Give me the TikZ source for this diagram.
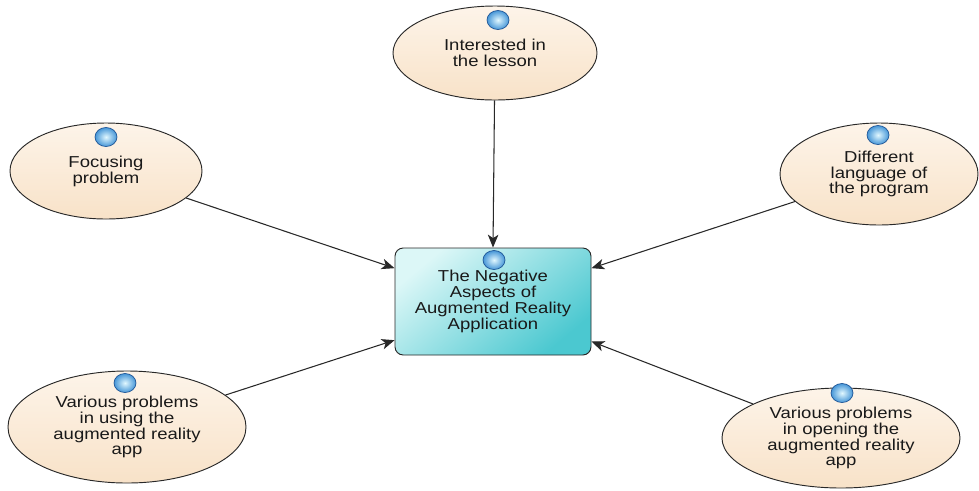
\documentclass[tikz,border=0pt]{standalone}
\usepackage{fontspec}
\setmainfont{Liberation Sans}[FakeStretch=1.17]
\usetikzlibrary{shapes.geometric,arrows.meta,calc}
\definecolor{txt}{RGB}{25,25,25}
\definecolor{edge}{RGB}{40,40,40}
\definecolor{peachA}{RGB}{253,244,233}
\definecolor{peachB}{RGB}{248,226,200}
\definecolor{tealA}{RGB}{220,247,247}
\definecolor{tealB}{RGB}{75,200,208}
\definecolor{ballin}{RGB}{225,248,255}
\definecolor{ballout}{RGB}{70,150,215}
\definecolor{ballrim}{RGB}{30,85,150}
\begin{document}
\begin{tikzpicture}[x=0.03cm,y=-0.03cm,
  labelfont/.style={font=\fontsize{13.5}{13.5}\selectfont},
  topic/.style={ellipse,draw=edge,line width=0.8pt,top color=peachA,bottom color=peachB,inner sep=0pt,align=center,text=txt,labelfont},
  hub/.style={rectangle,rounded corners=7pt,draw=edge,line width=0.8pt,top color=tealA,bottom color=tealB,shading angle=40,minimum width=5.88cm,minimum height=3.21cm,inner sep=0pt,align=center,text=txt,labelfont},
  bead/.style={ellipse,draw=ballrim,line width=0.6pt,inner color=ballin,outer color=ballout,minimum width=0.66cm,minimum height=0.57cm,inner sep=0pt},
  link/.style={draw=edge,line width=0.9pt,-{Stealth[length=11pt,width=9pt,inset=3pt]}}
]
\fill[white,use as bounding box] (0,0) rectangle (979,490);

\node[topic,minimum width=6.12cm,minimum height=2.82cm] (interest) at (495,53) {Interested in\\the lesson};
\node[topic,minimum width=5.76cm,minimum height=2.88cm] (focus) at (106,171) {Focusing\\problem};
\node[topic,minimum width=5.94cm,minimum height=3.06cm] (lang) at (879,174) {Different\\language of\\the program};
\node[topic,minimum width=7.14cm,minimum height=3.36cm] (usep) at (127,427) {Various problems\\in using the\\augmented reality\\app};
\node[topic,minimum width=7.14cm,minimum height=3.0cm] (openp) at (841,438) {Various problems\\in opening the\\augmented reality\\app};
\node[hub] (hub) at (493,301.5) {The Negative\\Aspects of\\Augmented Reality\\Application};

\node[bead] (b1) at (498,20) {};
\node[bead] (b2) at (106,137) {};
\node[bead] (b3) at (878,135) {};
\node[bead] (b4) at (125,383) {};
\node[bead] (b5) at (842,393) {};
\node[bead] (b6) at (494,260) {};

\draw[link] (interest) -- (hub.north);
\draw[link] (focus) -- ([yshift=1cm]hub.west);
\draw[link] (lang) -- ([yshift=1cm]hub.east);
\draw[link] (usep) -- ([yshift=-1.16cm]hub.west);
\draw[link] (openp) -- ([yshift=-1.2cm]hub.east);
\end{tikzpicture}
\end{document}
